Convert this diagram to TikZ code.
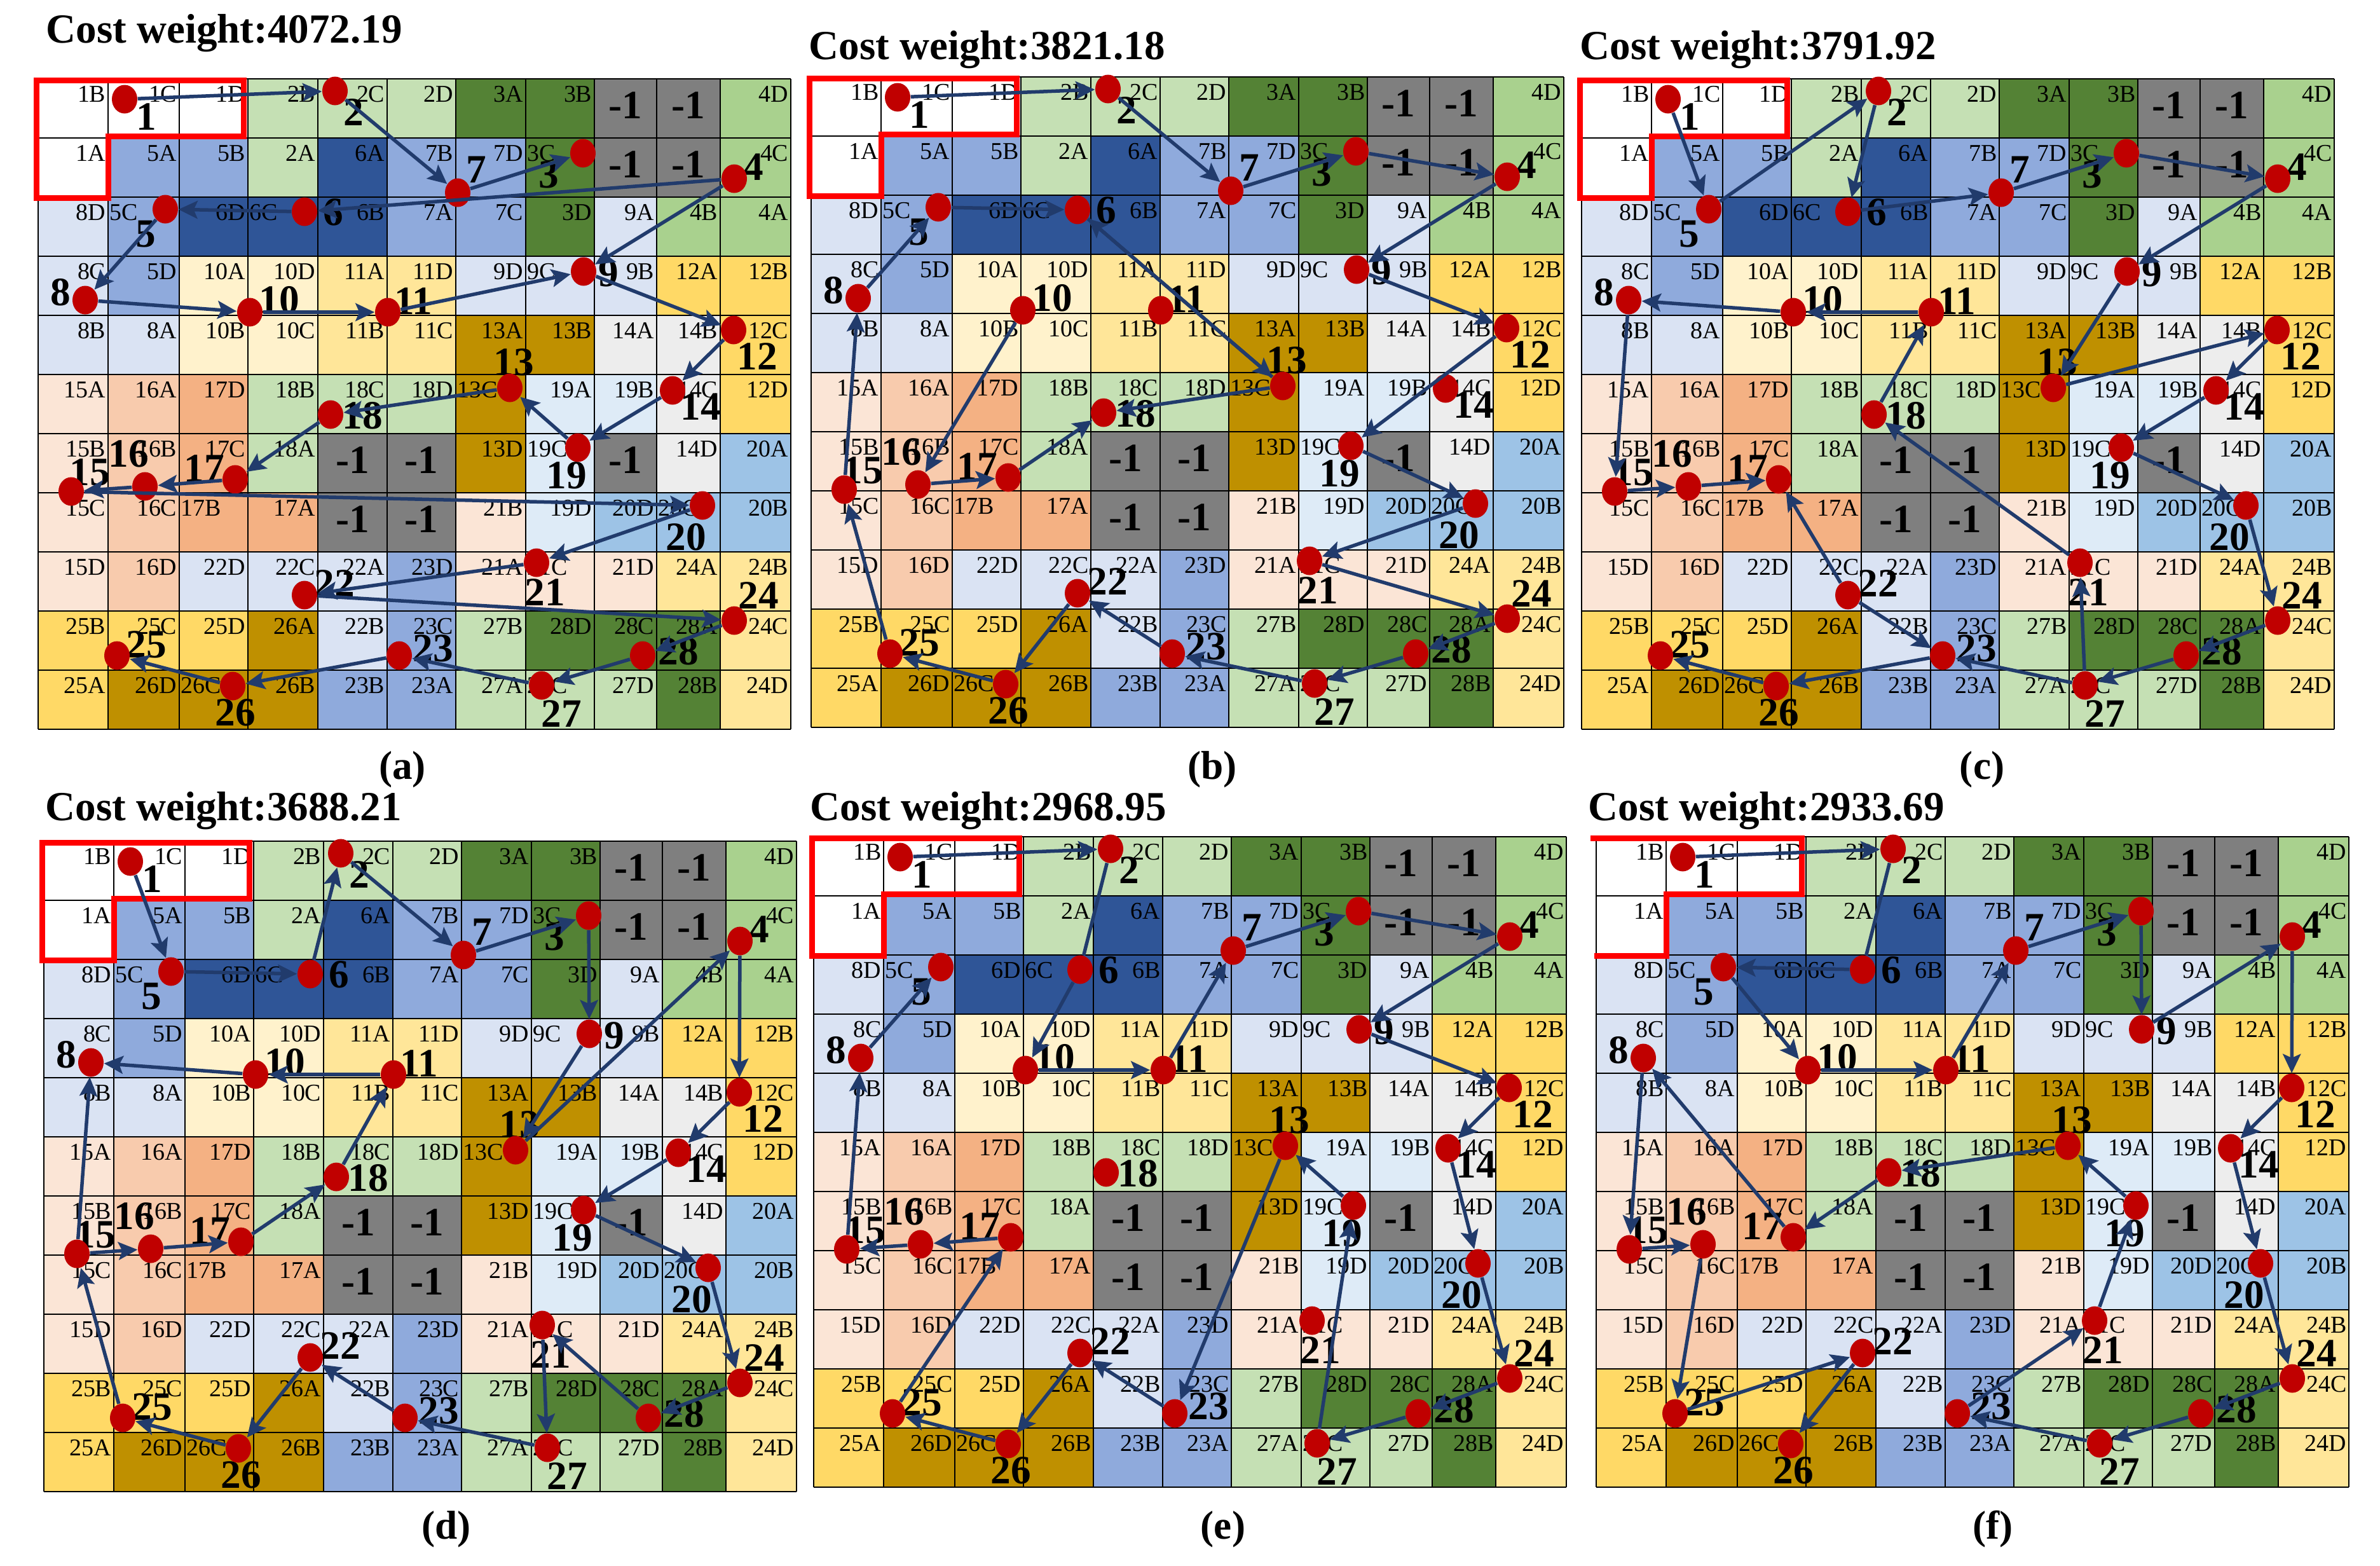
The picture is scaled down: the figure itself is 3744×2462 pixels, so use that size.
\documentclass[tikz,border=0pt]{standalone}
\usepackage{fontspec}
\setmainfont{Liberation Serif}
\usetikzlibrary{arrows.meta,shapes.geometric}
\definecolor{cW}{HTML}{FFFFFF}
\definecolor{cG}{HTML}{C5E0B4}
\definecolor{cD}{HTML}{548235}
\definecolor{cX}{HTML}{7F7F7F}
\definecolor{cM}{HTML}{A9D18E}
\definecolor{cB}{HTML}{8FAADC}
\definecolor{cN}{HTML}{2F5597}
\definecolor{cL}{HTML}{DAE3F3}
\definecolor{cY}{HTML}{FFF2CC}
\definecolor{cE}{HTML}{FFE699}
\definecolor{cO}{HTML}{FFD966}
\definecolor{cK}{HTML}{BF9000}
\definecolor{cH}{HTML}{EDEDED}
\definecolor{cP}{HTML}{FBE5D6}
\definecolor{cQ}{HTML}{F8CBAD}
\definecolor{cR}{HTML}{F4B183}
\definecolor{cV}{HTML}{DEEBF7}
\definecolor{cS}{HTML}{9DC3E6}
\definecolor{dotred}{HTML}{C00000}
\definecolor{navy}{HTML}{213B6C}
\def\colX{{0,110,222,330,440,549,657,767,875,973,1073,1184}}
\def\rowY{{0,93,186,279,372,465,558,651,744,837,930,1023}}
\def\gridrows{%
1/{W/1B/r,W/1C/r,W/1D/r,G/2B/r,G/2C/r,G/2D/r,D/3A/r,D/3B/r,X/-1/n,X/-1/n,M/4D/r},%
2/{W/1A/r,B/5A/r,B/5B/r,G/2A/r,N/6A/r,B/7B/r,B/7D/r,D/3C/l,X/-1/n,X/-1/n,M/4C/r},%
3/{L/8D/r,B/5C/l,N/6D/r,N/6C/l,N/6B/r,B/7A/r,B/7C/r,D/3D/r,L/9A/r,M/4B/r,M/4A/r},%
4/{L/8C/r,B/5D/r,Y/10A/r,Y/10D/r,E/11A/r,E/11D/r,L/9D/r,L/9C/l,L/9B/r,O/12A/r,O/12B/r},%
5/{L/8B/r,L/8A/r,Y/10B/r,Y/10C/r,E/11B/r,E/11C/r,K/13A/r,K/13B/r,H/14A/r,H/14B/r,O/12C/r},%
6/{P/15A/r,Q/16A/r,R/17D/r,G/18B/r,G/18C/r,G/18D/r,K/13C/l,V/19A/r,V/19B/r,H/14C/r,O/12D/r},%
7/{P/15B/r,Q/16B/r,R/17C/r,G/18A/r,X/-1/n,X/-1/n,K/13D/r,V/19C/l,X/-1/n,H/14D/r,S/20A/r},%
8/{P/15C/r,Q/16C/r,R/17B/l,R/17A/r,X/-1/n,X/-1/n,P/21B/r,V/19D/r,S/20D/r,S/20C/l,S/20B/r},%
9/{P/15D/r,Q/16D/r,L/22D/r,L/22C/r,L/22A/r,B/23D/r,P/21A/r,P/21C/l,P/21D/r,E/24A/r,E/24B/r},%
10/{O/25B/r,O/25C/r,O/25D/r,K/26A/r,L/22B/r,B/23C/r,G/27B/r,D/28D/r,D/28C/r,D/28A/r,E/24C/r},%
11/{O/25A/r,K/26D/r,K/26C/l,K/26B/r,B/23B/r,B/23A/r,G/27A/r,G/27C/l,G/27D/r,D/28B/r,E/24D/r}}
\def\dotpos{1/136/32,2/467/19,3/857/117,4/1095/157,5/200/205,6/419/209,7/660/179,8/74/348,9/858/303,10/333/367,11/550/367,12/1094/395,13/742/486,14/998/490,15/52/649,16/168/641,17/310/630,18/460/528,19/849/580,20/1045/671,21/784/761,22/419/812,23/568/907,24/1095/852,25/124/907,26/306/955,27/792/954,28/951/907}
\def\numpos{1/170/60,2/496/53,3/803/151,4/1125/139,5/169/244,6/464/210,7/689/143,8/35/336,9/897/306,10/379/348,11/590/350,12/1131/437,13/748/446,14/1042/516,15/81/619,16/142/590,17/261/613,18/510/530,19/831/624,20/1019/721,21/797/808,22/466/794,23/621/896,24/1133/813,25/170/890,26/310/997,27/823/999,28/1007/901}
\tikzset{
  cell/.style={inner sep=0pt,font=\fontsize{10.8}{12}\selectfont},
  neg/.style={inner sep=0pt,font=\fontsize{18}{20}\selectfont\bfseries},
  num/.style={inner sep=0pt,font=\fontsize{18}{20}\selectfont\bfseries},
  gridline/.style={draw=black,line width=0.25mm},
  redbox/.style={draw=red,line width=0.9mm,line join=miter},
  dot/.style={ellipse,fill=dotred,draw=none,minimum width=4.0mm,minimum height=4.5mm,inner sep=0pt},
  arr/.style={draw=navy,line width=0.55mm,-{Stealth[length=3mm,width=2.8mm,inset=0.6mm]}},
  plainarr/.style={draw=navy,line width=0.55mm},
  titletext/.style={inner sep=0pt,anchor=west,font=\fontsize{18.5}{20}\selectfont\bfseries},
  subtext/.style={inner sep=0pt,font=\fontsize{18}{20}\selectfont\bfseries}
}
\begin{document}
\begin{tikzpicture}[x=0.1mm,y=-0.1mm]
\fill[white] (0,0) rectangle (3744,2462);
\useasboundingbox (0,0) rectangle (3744,2462);
\foreach \pn/\ox/\oy/\rb in {a/60/124/1,b/1276/121/1,c/2488/124/1,d/69/1323/1,e/1280/1316/1,f/2511/1316/0}{
\begin{scope}[shift={(\ox,\oy)}]
  \foreach \ri/\row in \gridrows {
    \foreach [count=\ci] \col/\lab/\al in \row {
      \pgfmathsetmacro\xl{\colX[\ci-1]}
      \pgfmathsetmacro\xr{\colX[\ci]}
      \pgfmathsetmacro\yt{\rowY[\ri-1]}
      \pgfmathsetmacro\yb{\rowY[\ri]}
      \fill[c\col] (\xl,\yt) rectangle (\xr,\yb);
      \if\al r\node[cell,anchor=north east] at (\xr-3,\yt+11) {\lab};\fi
      \if\al l\node[cell,anchor=north west] at (\xl+2,\yt+11) {\lab};\fi
      \if\al n\node[neg] at ({(\xl+\xr)/2},{(\yt+\yb)/2-5}) {\lab};\fi
    }
  }
  \foreach \i in {0,...,11} {
    \pgfmathsetmacro\xx{\colX[\i]}
    \pgfmathsetmacro\yy{\rowY[\i]}
    \draw[gridline] (\xx,0) -- (\xx,1023);
    \draw[gridline] (0,\yy) -- (1184,\yy);
  }
  \ifnum\rb=1
    \draw[redbox] (-3,2) -- (323,2) -- (323,90) -- (110,90) -- (110,187) -- (-3,187) -- cycle;
  \else
    \draw[redbox] (-9,2) -- (323,2) -- (323,90) -- (110,90) -- (110,187) -- (-3,187);
  \fi
  \foreach \n/\x/\y in \numpos {\node[num] at (\x,\y) {\n};}
  \foreach \n/\x/\y in \dotpos {\node[dot] (\pn\n) at (\x,\y) {};}
\end{scope}
}
\foreach \pn/\lst in {
a/{1/2,2/7,7/3,4/6,4/9,6/5,5/8,8/10,10/11,11/9,9/12,12/14,14/19,19/13,13/18,18/17,17/16,16/15,15/20,20/21,21/22,22/24,24/28,28/27,27/23,23/26,26/25},
b/{1/2,2/7,7/3,3/4,4/9,9/12,12/19,19/20,20/21,21/24,24/28,28/27,27/23,23/22,22/26,26/25,25/15,15/8,8/5,5/6,6/13,13/6,13/18,17/18,16/17,10/16},
c/{1/5,5/2,2/6,6/7,7/3,3/4,4/9,9/13,13/12,12/14,14/19,19/20,20/24,24/28,28/27,27/21,27/23,21/18,18/11,11/10,10/8,8/15,15/16,16/17,22/17,22/23,23/26,26/25},
d/{1/5,5/6,6/2,2/7,7/3,3/9,9/13,13/4,4/12,12/14,14/19,19/20,20/24,24/28,28/21,21/27,27/23,23/22,22/26,26/25,25/15,15/8,15/16,16/17,17/18,18/11,11/10,10/8},
e/{1/2,6/10,10/11,11/7,7/3,3/4,4/9,9/12,12/14,14/20,20/24,24/28,28/27,27/19,19/13,13/23,23/22,22/26,26/25,25/17,17/16,16/15,15/8,8/5},
f/{1/2,6/5,5/10,10/11,11/7,7/3,3/9,9/4,4/12,12/14,14/20,20/24,24/28,28/27,27/23,23/21,21/19,19/13,13/18,18/17,17/8,8/15,15/16,16/25,25/22,22/26}}{
  \foreach \sa/\ta in \lst {\draw[arr] (\pn\sa) -- (\pn\ta);}
}
\draw[plainarr] (e2) -- (e6);
\draw[plainarr] (f2) -- (f6);
\node[titletext] at (72,52) {Cost weight:4072.19};
\node[titletext] at (1272,78) {Cost weight:3821.18};
\node[titletext] at (2485,78) {Cost weight:3791.92};
\node[titletext] at (71,1275) {Cost weight:3688.21};
\node[titletext] at (1274,1275) {Cost weight:2968.95};
\node[titletext] at (2498,1275) {Cost weight:2933.69};
\node[subtext] at (633,1210) {(a)};
\node[subtext] at (1907,1210) {(b)};
\node[subtext] at (3118,1210) {(c)};
\node[subtext] at (702,2405) {(d)};
\node[subtext] at (1924,2405) {(e)};
\node[subtext] at (3135,2405) {(f)};
\end{tikzpicture}
\end{document}
